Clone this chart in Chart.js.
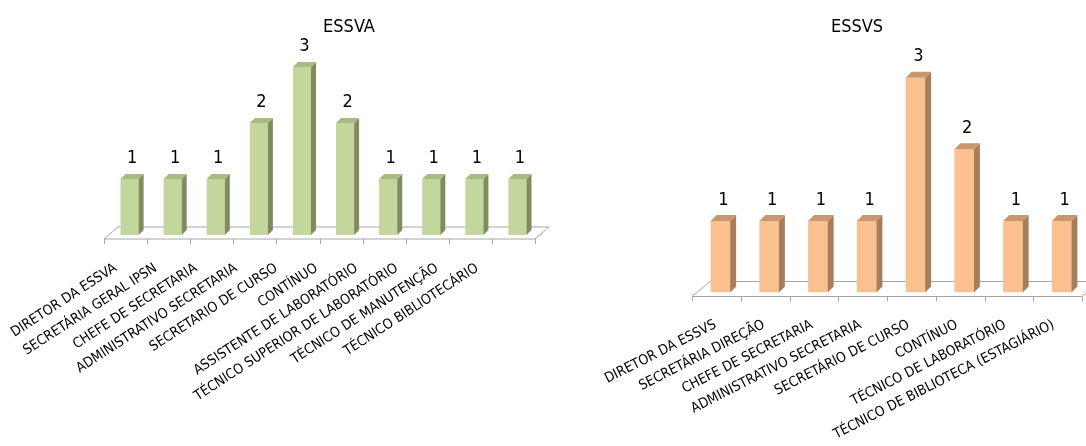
<!DOCTYPE html>
<html>
<head>
<meta charset="utf-8">
<script src="https://cdn.jsdelivr.net/npm/chart.js@4.4.1/dist/chart.umd.min.js"></script>
<style>
  html, body { margin: 0; padding: 0; background: #fff; overflow: hidden; }
  #wrap { position: relative; width: 1086px; height: 446px; overflow: hidden; }
  #essva { position: absolute; left: 0; top: 0; }
  #essvs { position: absolute; left: 580px; top: 0; }
</style>
</head>
<body>
<div id="wrap">
  <canvas id="essva" width="560" height="446"></canvas>
  <canvas id="essvs" width="526" height="446"></canvas>
</div>
<script>
// Staff per role at each school
const essvaTitle = 'ESSVA';
const essvaLabels = [
    'DIRETOR DA ESSVA',
    'SECRETÁRIA GERAL IPSN',
    'CHEFE DE SECRETARIA',
    'ADMINISTRATIVO SECRETARIA',
    'SECRETARIO DE CURSO',
    'CONTÍNUO',
    'ASSISTENTE DE LABORATÓRIO',
    'TÉCNICO SUPERIOR DE LABORATÓRIO',
    'TÉCNICO DE MANUTENÇÃO',
    'TÉCNICO BIBLIOTECÁRIO'
];
const essvaValues = [1, 1, 1, 2, 3, 2, 1, 1, 1, 1];

const essvsTitle = 'ESSVS';
const essvsLabels = [
    'DIRETOR DA ESSVS',
    'SECRETÁRIA DIREÇÃO',
    'CHEFE DE SECRETARIA',
    'ADMINISTRATIVO SECRETARIA',
    'SECRETÁRIO DE CURSO',
    'CONTÍNUO',
    'TÉCNICO DE LABORATÓRIO',
    'TÉCNICO DE BIBLIOTECA (ESTAGIÁRIO)'
];
const essvsValues = [1, 1, 1, 1, 3, 2, 1, 1];

const FONT = "'Liberation Sans Narrow', 'DejaVu Sans Condensed', 'Open Sans', sans-serif";

// Draws the floor, the side/top faces of each bar, the value labels and the title
const bar3d = {
    id: 'bar3d',
    beforeDatasetsDraw(chart, args, opts) {
        const ctx = chart.ctx;
        const area = chart.chartArea;
        const xs = chart.scales.x;
        const base = chart.scales.y.getPixelForValue(0);
        const f = opts.floor;
        ctx.save();
        ctx.strokeStyle = '#a6a6a6';
        ctx.lineWidth = 1;
        ctx.fillStyle = '#ffffff';
        ctx.beginPath();
        ctx.moveTo(area.left + f.fx, base + f.fy);
        ctx.lineTo(area.right + f.fx, base + f.fy);
        ctx.lineTo(area.right + f.bx, base + f.by);
        ctx.lineTo(area.left + f.bx, base + f.by);
        ctx.closePath();
        ctx.fill();
        ctx.stroke();
        // tick marks between categories, along the front edge
        const n = chart.data.labels.length;
        ctx.beginPath();
        for (let i = 0; i <= n; i++) {
            const px = Math.round(xs.getPixelForValue(i - 0.5) + f.fx) + 0.5;
            ctx.moveTo(px, base + f.fy);
            ctx.lineTo(px, base + f.fy + 5);
        }
        ctx.stroke();
        ctx.restore();
    },
    afterDatasetsDraw(chart, args, opts) {
        const ctx = chart.ctx;
        const meta = chart.getDatasetMeta(0);
        const values = chart.data.datasets[0].data;
        const d = opts.depth;
        ctx.save();
        meta.data.forEach(function (bar, i) {
            const left = bar.x - bar.width / 2;
            const right = bar.x + bar.width / 2;
            // side face
            ctx.fillStyle = opts.side;
            ctx.beginPath();
            ctx.moveTo(right, bar.y);
            ctx.lineTo(right + d, bar.y - d);
            ctx.lineTo(right + d, bar.base - d);
            ctx.lineTo(right, bar.base);
            ctx.closePath();
            ctx.fill();
            // top face
            ctx.fillStyle = opts.top;
            ctx.beginPath();
            ctx.moveTo(left, bar.y);
            ctx.lineTo(left + d, bar.y - d);
            ctx.lineTo(right + d, bar.y - d);
            ctx.lineTo(right, bar.y);
            ctx.closePath();
            ctx.fill();
            // value label
            ctx.fillStyle = '#000';
            ctx.font = '18px ' + FONT;
            ctx.textAlign = 'center';
            ctx.textBaseline = 'middle';
            ctx.fillText(String(values[i]), bar.x + d / 2, bar.y - 21);
        });
        ctx.font = '18px ' + FONT;
        ctx.textAlign = 'center';
        ctx.textBaseline = 'middle';
        ctx.fillStyle = '#000';
        ctx.fillText(opts.title, opts.titleX, 27);
        ctx.restore();
    }
};

function makeChart(id, cfg) {
    const ctx = document.getElementById(id).getContext('2d');
    return new Chart(ctx, {
        type: 'bar',
        data: {
            labels: cfg.labels,
            datasets: [{
                data: cfg.values,
                backgroundColor: cfg.front,
                borderWidth: 0,
                barPercentage: cfg.barPct,
                categoryPercentage: 1
            }]
        },
        options: {
            responsive: false,
            animation: false,
            layout: { padding: cfg.padding },
            plugins: {
                legend: { display: false },
                tooltip: { enabled: false },
                title: { display: false },
                bar3d: {
                    depth: cfg.depth,
                    side: cfg.side,
                    top: cfg.top,
                    floor: cfg.floor,
                    title: cfg.title,
                    titleX: cfg.titleX
                }
            },
            scales: {
                x: { display: false },
                // label axis: the slanted names sit a little closer together than the bars
                lab: {
                    type: 'linear',
                    position: 'bottom',
                    offset: false,
                    bounds: 'data',
                    min: cfg.labMin,
                    max: cfg.labMax,
                    grid: { display: false, drawTicks: false, offset: false },
                    border: { display: false },
                    afterBuildTicks: function (scale) {
                        scale.ticks = cfg.labels.map(function (l, i) { return { value: i }; });
                    },
                    ticks: {
                        autoSkip: false,
                        minRotation: cfg.rotation,
                        maxRotation: cfg.rotation,
                        padding: cfg.tickPad,
                        color: '#000',
                        font: { family: FONT, size: 14 },
                        callback: function (value) { return cfg.labels[value]; }
                    },
                    afterFit: function (scale) {
                        // keep the plot width fixed; long rotated labels may run past the edge
                        scale.height = cfg.axisHeight;
                        scale.paddingLeft = 0;
                        scale.paddingRight = 0;
                    }
                },
                y: {
                    display: false,
                    min: 0,
                    max: 3.5
                }
            }
        },
        plugins: [bar3d]
    });
}

makeChart('essva', {
    labels: essvaLabels,
    values: essvaValues,
    title: essvaTitle,
    titleX: 349,
    front: '#c3d69b',
    side: '#7f8c5f',
    top: '#a9ba83',
    barPct: 0.42,
    depth: 5,
    floor: { fx: -4, fy: 4, bx: 10, by: -8 },
    padding: { left: 108, right: 21, top: 39, bottom: 0 },
    axisHeight: 211,
    tickPad: 25,
    rotation: 33,
    labMin: -0.187,
    labMax: 10.535
});

makeChart('essvs', {
    labels: essvsLabels,
    values: essvsValues,
    title: essvsTitle,
    titleX: 277,
    front: '#fac090',
    side: '#a67e5b',
    top: '#c9976d',
    barPct: 0.4,
    depth: 6,
    floor: { fx: -4, fy: 4, bx: 14, by: -11 },
    padding: { left: 116, right: 20, top: 42, bottom: 0 },
    axisHeight: 153.5,
    tickPad: 24,
    rotation: 27,
    labMin: -0.404,
    labMax: 7.671
});
</script>
</body>
</html>
